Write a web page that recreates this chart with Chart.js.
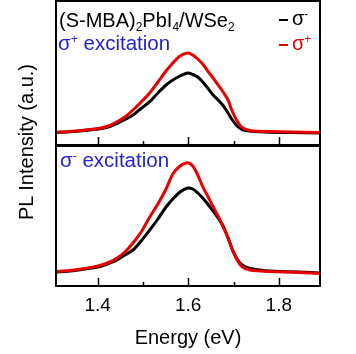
<!DOCTYPE html>
<html><head><meta charset="utf-8">
<script src="https://cdn.jsdelivr.net/npm/chart.js@4.4.0/dist/chart.umd.min.js"></script>
<style>
html,body{margin:0;padding:0;background:#fff;}
#wrap{position:relative;width:356px;height:354px;overflow:hidden;font-family:"Liberation Sans",Arial,sans-serif;}
canvas{position:absolute;left:0;}
.t{position:absolute;white-space:nowrap;line-height:1;}
.sub{font-size:0.6em;position:relative;top:0.33em;}
.sup{font-size:0.6em;position:relative;top:-0.55em;}
.blue{color:#1e1ed2;}
.red{color:#e80000;}
.seg{position:absolute;height:2px;width:9px;}
</style></head>
<body><div id="wrap">
<canvas id="c1" width="356" height="146" style="top:0;width:356px;height:146px"></canvas>
<canvas id="c2" width="356" height="208" style="top:146px;width:356px;height:208px"></canvas>
<div class="t" style="left:59px;top:10px;font-size:20px;color:#000">(S-MBA)<span class="sub">2</span>PbI<span class="sub">4</span>/WSe<span class="sub">2</span></div>
<div class="t blue" style="left:58px;top:33px;font-size:20.5px">σ<span class="sup">+</span> excitation</div>
<div class="t blue" style="left:60px;top:150px;font-size:20.5px">σ<span class="sup">-</span> excitation</div>
<div class="seg" style="left:279px;top:19px;background:#000"></div>
<div class="t" style="left:292px;top:8px;font-size:20px;color:#000">σ<span class="sup">-</span></div>
<div class="seg" style="left:279px;top:44px;background:#e80000"></div>
<div class="t red" style="left:292px;top:33px;font-size:20px">σ<span class="sup">+</span></div>
<div class="t" style="left:26px;top:142px;font-size:20px;color:#000;transform:translate(-50%,-50%) rotate(-90deg);">PL Intensity (a.u.)</div>
</div>
<script>
// Energy axis (eV)
const energy = [1.308,1.339,1.372,1.405,1.427,1.443,1.460,1.478,1.496,1.515,1.533,1.551,1.566,1.582,1.599,1.610,1.621,1.632,1.643,1.655,1.666,1.677,1.688,1.696,1.708,1.719,1.736,1.758,1.780,1.825,1.891];
// Top panel: sigma+ excitation
const topSigmaMinus = [0.5,1.2,2.5,4.3,6.5,9.5,13.5,18,24.5,31.3,40,48,53,57,60,58.5,56,51,45,38,33,27.5,20,14,7,3.5,2,1.2,0.8,0.4,0];
const topSigmaPlus  = [0.7,1.5,3,4.7,7.5,11.3,16,23,31,40,51,62,70,77,80,78,74,69,62,55,48,41,33,23,12,5.5,2.5,1.7,1.4,1,0.5];
// Bottom panel: sigma- excitation
const botSigmaMinus = [1,2,4,6.5,10,13,18,23,32,43,54,66,74,81,85,84,80,75,69,62,55,47,35,25,14,8,4.5,3,2,1.3,0];
const botSigmaPlus  = [1.3,2.5,4.5,7.5,11,15,21,30,41,56,69,84,99,107,110.3,107,98,86.3,77,66.3,57,46.3,35,25,13,6.3,3,2,1.5,1,-0.5];
// x ticks
const xLabels = [1.4,1.6,1.8];
const majorTicks = [1.4,1.6,1.8];
const minorTicks = [1.5,1.7];
const xMin = 1.308, xMax = 1.891;

const RED = '#e80000', BLACK = '#000000';
const pts = (vals) => energy.map((e,i)=>({x:e,y:vals[i]}));

const framePlugin = {
  id:'framePlugin',
  afterDraw(chart){
    const {ctx, chartArea:a} = chart;
    const x = chart.scales.x;
    ctx.save();
    ctx.strokeStyle='#000';
    ctx.lineWidth=1.5;
    const tick=(v,len)=>{const p=Math.round(x.getPixelForValue(v))+0.5;ctx.beginPath();ctx.moveTo(p,a.bottom);ctx.lineTo(p,a.bottom-len);ctx.stroke();};
    majorTicks.forEach(v=>tick(v,8));
    minorTicks.forEach(v=>tick(v,4));
    ctx.lineWidth=2;
    ctx.strokeRect(a.left, a.top, a.right-a.left, a.bottom-a.top);
    ctx.restore();
  }
};

function ds(label, vals, color){
  return {label, data:pts(vals), borderColor:color, backgroundColor:color, borderWidth:3, pointRadius:0, tension:0.3, fill:false};
}

Chart.defaults.font.family = '"Liberation Sans", Arial, sans-serif';
Chart.defaults.color = '#000';

new Chart(document.getElementById('c1'), {
  type:'line',
  data:{datasets:[ds('σ+',topSigmaPlus,RED), ds('σ-',topSigmaMinus,BLACK)]},
  options:{
    responsive:false, devicePixelRatio:1, animation:false,
    layout:{padding:{left:56,right:36,top:1,bottom:1}},
    plugins:{legend:{display:false},tooltip:{enabled:false}},
    scales:{
      x:{type:'linear',min:xMin,max:xMax,display:false},
      y:{min:-12,max:132,display:false}
    }
  },
  plugins:[framePlugin]
});

new Chart(document.getElementById('c2'), {
  type:'line',
  data:{datasets:[ds('σ+',botSigmaPlus,RED), ds('σ-',botSigmaMinus,BLACK)]},
  options:{
    responsive:false, devicePixelRatio:1, animation:false,
    layout:{padding:{left:56,right:36,top:0,bottom:0}},
    plugins:{legend:{display:false},tooltip:{enabled:false}},
    scales:{
      x:{type:'linear',min:xMin,max:xMax,
        grid:{display:false,drawTicks:false},
        border:{display:false},
        afterBuildTicks:(s)=>{s.ticks = xLabels.map(v=>({value:v}));},
        afterFit:(s)=>{s.height=68;},
        ticks:{font:{size:19},padding:8,maxRotation:0,callback:(v)=>Number(v).toFixed(1)},
        title:{display:true,text:'Energy (eV)',font:{size:20},padding:{top:0,bottom:4}}
      },
      y:{min:-13,max:127,display:false}
    }
  },
  plugins:[framePlugin]
});
</script>
</body></html>
